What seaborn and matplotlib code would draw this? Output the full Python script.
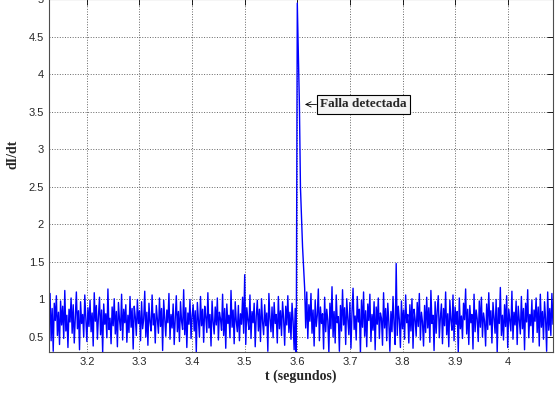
import numpy as np
import pandas as pd
import matplotlib
matplotlib.use("Agg")
import matplotlib.pyplot as plt
import seaborn as sns

# valores (muestreo aprox. cada 2 ms)
t_inicio, t_fin = 3.128, 4.086
dIdt = [
    0.62, 1.08, 0.45, 0.88, 0.31, 0.95, 0.72, 1.05, 0.52, 0.83, 0.40, 0.98, 0.66, 0.91, 0.48, 1.12, 0.58, 0.79, 0.36, 0.87,
    0.70, 1.02, 0.55, 0.93, 0.42, 0.76, 1.10, 0.61, 0.85, 0.33, 0.97, 0.68, 0.80, 0.50, 1.06, 0.74, 0.44, 0.89, 0.64, 0.99,
    0.57, 0.82, 0.38, 1.09, 0.71, 0.92, 0.47, 0.78, 1.03, 0.53, 0.86, 0.29, 0.94, 0.67, 0.81, 0.49, 1.14, 0.60, 0.75, 0.41,
    0.90, 0.65, 1.01, 0.54, 0.84, 0.37, 0.96, 0.73, 0.59, 1.07, 0.46, 0.87, 0.69, 0.93, 0.43, 0.79, 0.56, 1.04, 0.63, 0.88,
    0.34, 0.91, 0.77, 0.52, 1.00, 0.68, 0.85, 0.45, 0.97, 0.61, 0.74, 1.11, 0.50, 0.83, 0.39, 0.95, 0.70, 0.58, 1.06, 0.66,
    0.81, 0.42, 0.92, 0.73, 0.55, 1.02, 0.64, 0.88, 0.32, 0.99, 0.76, 0.51, 0.86, 0.69, 1.08, 0.47, 0.80, 0.62, 0.94, 0.40,
    0.75, 1.05, 0.57, 0.84, 0.44, 0.97, 0.71, 0.60, 1.13, 0.53, 0.89, 0.36, 0.82, 0.67, 1.00, 0.48, 0.78, 0.93, 0.58, 0.85,
    0.30, 0.96, 0.72, 0.50, 1.04, 0.65, 0.87, 0.43, 0.91, 0.77, 0.56, 1.09, 0.62, 0.80, 0.38, 0.98, 0.70, 0.54, 0.90, 0.66,
    1.02, 0.46, 0.83, 0.74, 0.59, 1.07, 0.52, 0.88, 0.35, 0.94, 0.68, 0.79, 0.49, 1.12, 0.63, 0.86, 0.41, 0.97, 0.71, 0.57,
    0.92, 0.45, 0.81, 0.67, 1.03, 0.55, 1.33, 0.40, 0.89, 0.73, 0.60, 1.06, 0.48, 0.84, 0.69, 0.95, 0.37, 0.78, 0.99, 0.58,
    0.87, 0.44, 1.01, 0.70, 0.53, 0.93, 0.65, 0.82, 0.31, 1.08, 0.75, 0.57, 0.90, 0.49, 0.96, 0.68, 0.80, 0.42, 1.04, 0.61,
    0.85, 0.52, 0.97, 0.74, 0.39, 0.91, 0.66, 1.05, 0.56, 0.83, 0.47, 0.95, 0.71, 0.33, 0.88, 0.27, 4.95, 4.30, 3.60, 2.50,
    2.12, 1.70, 1.43, 1.15, 0.62, 1.10, 0.48, 0.93, 0.71, 1.08, 0.55, 0.86, 0.38, 0.99, 0.64, 0.79, 1.14, 0.45, 0.90, 0.68,
    0.81, 0.34, 1.03, 0.57, 0.87, 0.72, 0.29, 0.95, 0.61, 1.17, 0.50, 0.84, 0.42, 1.06, 0.69, 0.77, 0.31, 0.92, 0.58, 1.13,
    0.66, 0.89, 0.40, 1.01, 0.74, 0.53, 0.96, 0.35, 0.83, 1.15, 0.60, 0.78, 0.46, 1.04, 0.70, 0.87, 0.28, 0.99, 0.63, 1.10,
    0.51, 0.85, 0.37, 0.94, 0.72, 1.07, 0.44, 0.80, 0.59, 0.97, 0.33, 0.90, 0.67, 1.02, 0.48, 0.82, 0.75, 0.39, 1.09, 0.62,
    0.88, 0.45, 0.95, 0.70, 0.31, 0.84, 0.57, 1.04, 0.66, 0.40, 1.48, 0.52, 0.91, 0.73, 0.36, 0.98, 0.61, 0.86, 0.47, 1.06,
    0.69, 0.80, 0.42, 0.93, 0.58, 1.01, 0.35, 0.87, 0.74, 0.51, 0.96, 0.64, 1.08, 0.46, 0.83, 0.70, 0.38, 0.92, 0.56, 1.03,
    0.62, 0.89, 0.43, 1.12, 0.68, 0.79, 0.32, 0.97, 0.55, 0.85, 1.05, 0.49, 0.76, 0.94, 0.41, 0.88, 0.65, 1.10, 0.53, 0.81,
    0.37, 0.99, 0.72, 0.59, 1.06, 0.45, 0.90, 0.67, 0.84, 0.30, 1.02, 0.61, 0.78, 0.48, 0.95, 0.73, 1.14, 0.54, 0.87, 0.40,
    0.92, 0.69, 0.80, 0.34, 1.07, 0.57, 0.86, 0.74, 0.44, 0.98, 0.63, 1.03, 0.50, 0.82, 0.71, 0.38, 0.94, 0.60, 1.09, 0.66,
    0.85, 0.42, 0.96, 0.75, 0.55, 1.00, 0.29, 0.89, 0.68, 1.16, 0.52, 0.79, 0.46, 0.93, 0.64, 1.05, 0.36, 0.87, 0.72, 0.58,
    1.11, 0.47, 0.83, 0.66, 0.98, 0.40, 0.91, 0.73, 0.54, 1.04, 0.61, 0.88, 0.33, 0.95, 0.70, 1.13, 0.49, 0.80, 0.65, 0.99,
    0.43, 0.86, 0.71, 1.02, 0.56, 0.90, 0.38, 1.07, 0.63, 0.84, 0.47, 0.97, 0.74, 0.31, 1.10, 0.59, 0.88, 0.52, 1.08, 0.67,
]
x_ticks = [3.2, 3.3, 3.4, 3.5, 3.6, 3.7, 3.8, 3.9, 4.0]
x_labels = ["3.2", "3.3", "3.4", "3.5", "3.6", "3.7", "3.8", "3.9", "4"]
y_ticks = [0.5, 1, 1.5, 2, 2.5, 3, 3.5, 4, 4.5, 5]
y_labels = ["0.5", "1", "1.5", "2", "2.5", "3", "3.5", "4", "4.5", "5"]
anotacion = "Falla detectada"
punta_flecha = (3.6145, 3.6)
pos_texto = (3.6435, 3.6)

t = np.linspace(t_inicio, t_fin, len(dIdt))
df = pd.DataFrame({"t": t, "dIdt": dIdt})

sns.set_style("white")
plt.rcParams["font.family"] = ["Liberation Sans", "DejaVu Sans"]

fig = plt.figure(figsize=(5.55, 3.94), dpi=100)
ax = fig.add_axes([0.0883, 0.1066, 0.908, 0.895])

sns.lineplot(data=df, x="t", y="dIdt", ax=ax, color="#0000ff", linewidth=1.0)

ax.set_xlim(t_inicio, t_fin)
ax.set_ylim(0.3, 5)
ax.set_xticks(x_ticks)
ax.set_xticklabels(x_labels)
ax.set_yticks(y_ticks)
ax.set_yticklabels(y_labels)
ax.tick_params(direction="in", length=4, labelsize=8, top=True, right=True,
               color="k", width=0.6)
ax.grid(True, color="0.25", linestyle=":", linewidth=0.7, alpha=0.8)
for s in ax.spines.values():
    s.set_color("0.3")
    s.set_linewidth(0.8)

serif = ["Liberation Serif", "DejaVu Serif"]
ax.set_xlabel("t (segundos)", fontsize=10, fontweight="bold", family=serif, labelpad=2)
ax.set_ylabel("dI/dt", fontsize=10, fontweight="bold", family=serif)
ax.yaxis.set_label_coords(-0.058, 0.56)

ax.annotate(anotacion, xy=punta_flecha, xytext=pos_texto,
            fontsize=9.5, fontweight="bold", family=serif, ha="left", va="center",
            bbox=dict(boxstyle="square,pad=0.25", fc="#f4f4f4", ec="k", lw=0.8),
            arrowprops=dict(arrowstyle="->", color="k", lw=0.6, shrinkA=0, shrinkB=0))

fig.savefig("out.png", dpi=100)
